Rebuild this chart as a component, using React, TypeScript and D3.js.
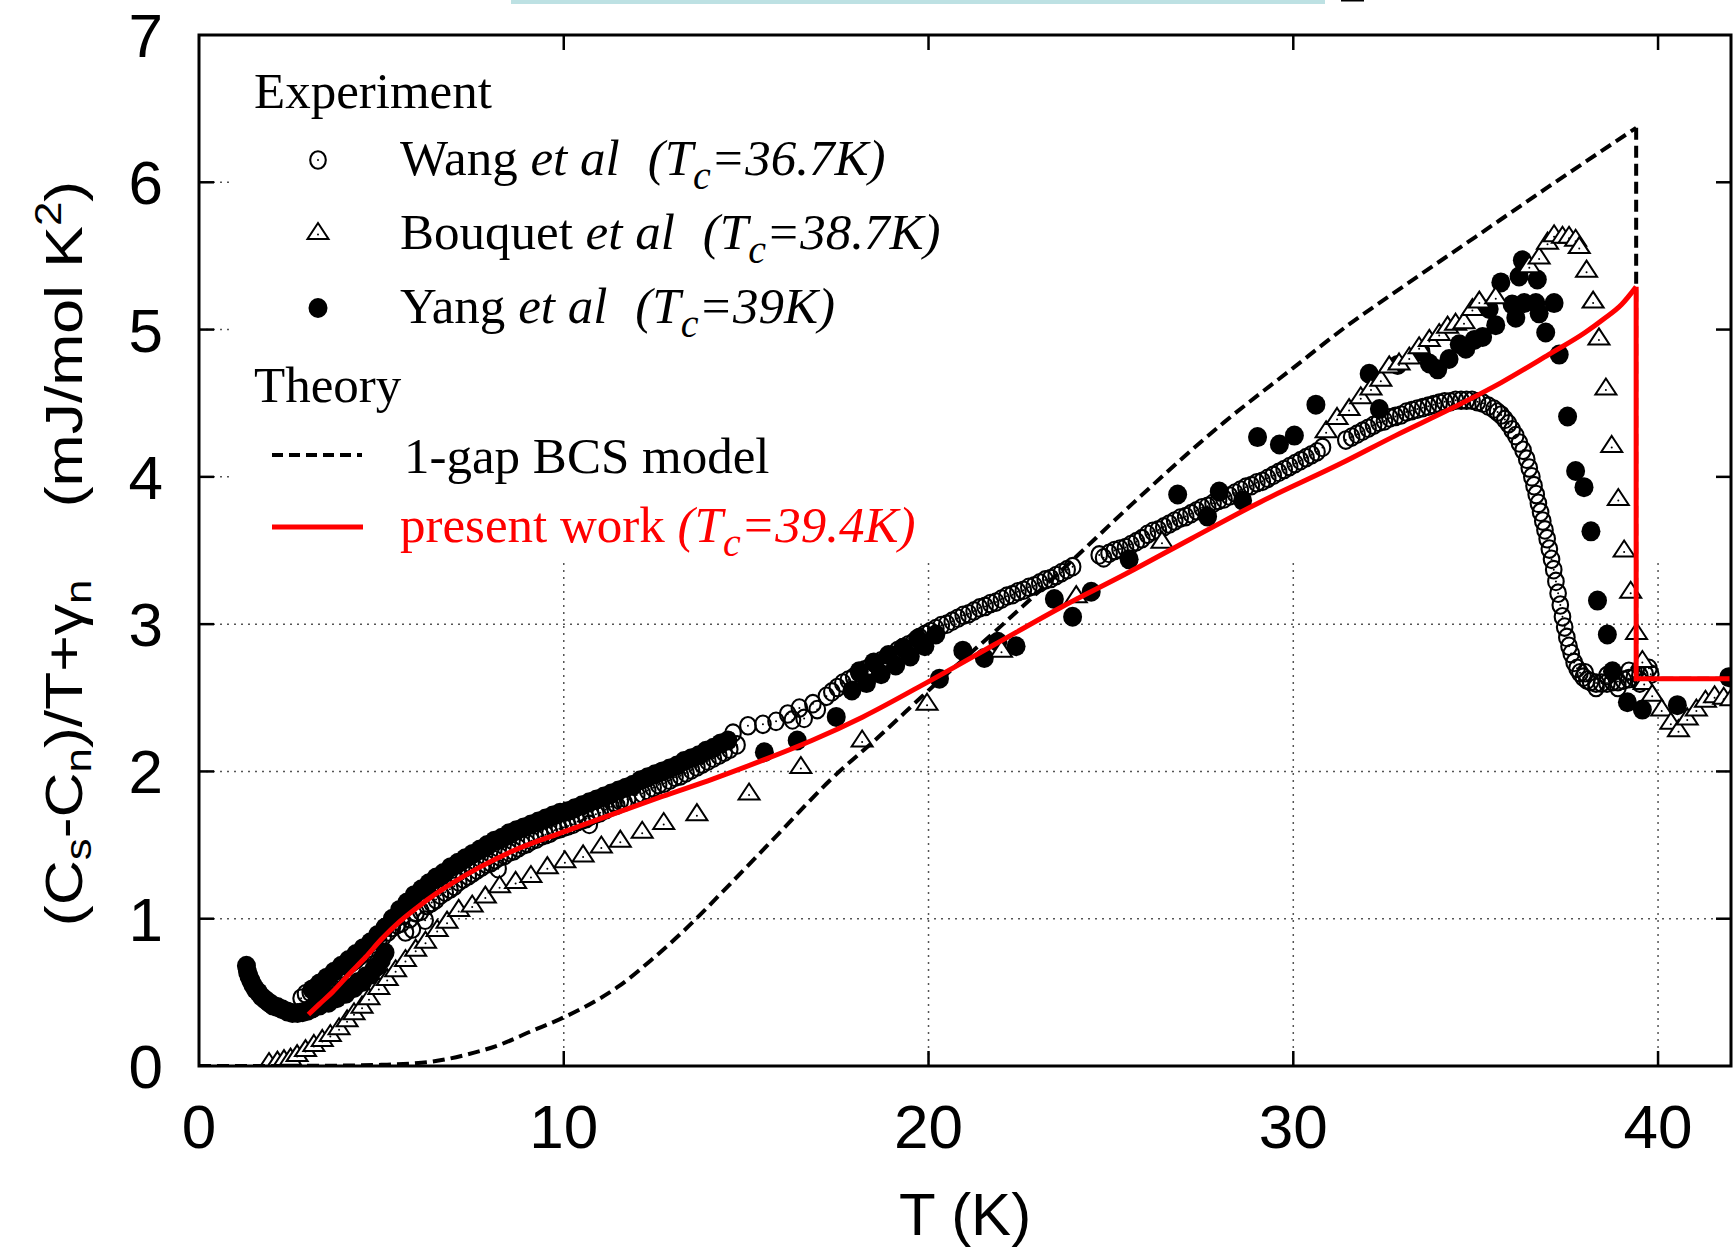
import React from "react";
import * as d3 from "d3";

const W = 1734;
const H = 1251;
const left = 199;
const right = 1731;
const top = 35;
const bottom = 1066;
// gnuplot leaves the grid out where the key sits
const keyLeft = 233;
const keyBottom = 563;

const xTicks = [0, 10, 20, 30, 40];
const yTicks = [0, 1, 2, 3, 4, 5, 6, 7];

// Wang et al (open circles)
const wang = [
  [2.8, 0.46], [2.92, 0.49], [3.05, 0.5], [3.18, 0.53], [3.3, 0.55], [3.42, 0.57], [3.55, 0.59], [3.68, 0.61],
  [3.8, 0.63], [3.93, 0.66], [4.05, 0.68], [4.18, 0.7], [4.3, 0.72], [4.43, 0.75], [4.55, 0.77], [4.68, 0.8],
  [4.8, 0.83], [4.93, 0.85], [5.05, 0.88], [5.18, 0.91], [5.3, 0.94], [5.43, 0.96], [5.55, 0.97], [5.66, 0.91],
  [5.78, 1.0], [5.85, 0.93], [5.95, 1.04], [6.08, 1.05], [6.2, 0.99], [6.25, 1.09], [6.38, 1.11], [6.5, 1.13],
  [6.62, 1.16], [6.75, 1.18], [6.88, 1.2], [7.0, 1.22], [7.12, 1.25], [7.25, 1.27], [7.38, 1.29], [7.5, 1.31],
  [7.62, 1.33], [7.75, 1.35], [7.88, 1.37], [8.0, 1.38], [8.12, 1.4], [8.2, 1.34], [8.25, 1.42], [8.38, 1.43],
  [8.5, 1.45], [8.62, 1.46], [8.75, 1.48], [8.88, 1.5], [9.0, 1.51], [9.12, 1.53], [9.25, 1.54], [9.38, 1.56],
  [9.5, 1.57], [9.62, 1.58], [9.75, 1.6], [9.88, 1.61], [10.0, 1.62], [10.12, 1.63], [10.25, 1.64], [10.38, 1.66],
  [10.5, 1.67], [10.62, 1.68], [10.7, 1.64], [10.75, 1.7], [10.88, 1.71], [11.0, 1.72], [11.15, 1.74], [11.3, 1.76],
  [11.38, 1.79], [11.45, 1.77], [11.55, 1.8], [11.65, 1.79], [11.75, 1.81], [11.9, 1.9], [12.0, 1.84], [12.15, 1.85],
  [12.3, 1.87], [12.45, 1.89], [12.6, 1.91], [12.75, 1.92], [12.9, 1.94], [13.05, 1.96], [13.2, 1.97], [13.35, 1.99],
  [13.5, 2.01], [13.65, 2.03], [13.8, 2.05], [13.95, 2.07], [14.1, 2.09], [14.25, 2.11], [14.4, 2.13], [14.55, 2.15],
  [14.64, 2.26], [14.75, 2.18],
  [15.05, 2.31], [15.46, 2.32], [15.82, 2.34], [16.14, 2.39], [16.27, 2.35], [16.46, 2.43], [16.59, 2.36],
  [16.83, 2.46], [16.95, 2.42], [17.2, 2.51],
  [17.35, 2.54], [17.5, 2.57], [17.65, 2.6], [17.8, 2.62], [17.95, 2.64], [18.1, 2.67], [18.25, 2.69], [18.4, 2.71],
  [18.55, 2.73], [18.7, 2.75], [18.85, 2.77], [19.0, 2.79], [19.15, 2.82], [19.3, 2.84], [19.45, 2.86], [19.6, 2.88],
  [19.75, 2.91], [19.9, 2.93], [20.05, 2.95], [20.2, 2.97], [20.35, 2.99], [20.5, 3.0], [20.65, 3.02], [20.8, 3.04],
  [20.95, 3.06], [21.1, 3.07], [21.25, 3.09], [21.4, 3.11], [21.55, 3.12], [21.7, 3.14], [21.85, 3.15], [22.0, 3.17],
  [22.15, 3.19], [22.3, 3.2], [22.45, 3.22], [22.6, 3.23], [22.75, 3.25], [22.9, 3.26], [23.05, 3.28], [23.2, 3.3],
  [23.35, 3.31], [23.5, 3.33], [23.65, 3.35], [23.8, 3.37], [23.95, 3.39],
  [24.68, 3.47], [24.8, 3.45], [24.95, 3.48], [25.1, 3.5], [25.25, 3.51], [25.4, 3.52], [25.55, 3.54], [25.7, 3.56],
  [25.85, 3.58], [26.0, 3.61], [26.15, 3.63], [26.3, 3.64], [26.45, 3.66], [26.6, 3.68], [26.75, 3.7], [26.9, 3.72],
  [27.05, 3.73], [27.2, 3.75], [27.35, 3.77], [27.5, 3.79], [27.65, 3.8], [27.8, 3.82], [27.95, 3.84], [28.1, 3.85],
  [28.25, 3.87], [28.4, 3.89], [28.55, 3.91], [28.7, 3.93], [28.85, 3.94], [29.0, 3.96], [29.15, 3.97], [29.3, 3.99],
  [29.45, 4.01], [29.6, 4.03], [29.75, 4.05], [29.9, 4.07], [30.05, 4.09], [30.2, 4.11], [30.35, 4.13], [30.5, 4.15],
  [30.65, 4.17], [30.8, 4.2],
  [31.44, 4.25], [31.6, 4.27], [31.75, 4.29], [31.9, 4.31], [32.05, 4.33], [32.2, 4.35], [32.35, 4.37], [32.5, 4.38],
  [32.65, 4.4], [32.8, 4.41], [32.95, 4.42], [33.1, 4.44], [33.25, 4.45], [33.4, 4.46], [33.55, 4.47], [33.7, 4.48],
  [33.85, 4.49], [34.0, 4.5], [34.15, 4.51], [34.3, 4.51], [34.45, 4.52], [34.6, 4.52], [34.75, 4.52], [34.9, 4.52],
  [35.05, 4.51], [35.2, 4.5], [35.35, 4.48], [35.5, 4.46], [35.6, 4.44], [35.7, 4.42], [35.8, 4.39], [35.9, 4.36],
  [36.0, 4.32], [36.1, 4.28], [36.2, 4.23], [36.3, 4.18], [36.4, 4.12], [36.47, 4.06], [36.54, 4.0], [36.6, 3.94],
  [36.66, 3.88], [36.72, 3.82], [36.78, 3.76], [36.84, 3.7], [36.9, 3.64], [36.96, 3.58], [37.02, 3.51], [37.08, 3.44],
  [37.14, 3.37], [37.2, 3.29], [37.26, 3.21], [37.32, 3.13], [37.38, 3.05], [37.44, 2.98], [37.5, 2.91], [37.56, 2.85],
  [37.62, 2.8], [37.7, 2.74], [37.78, 2.7], [37.86, 2.67], [37.95, 2.64], [38.05, 2.62], [38.15, 2.61], [38.3, 2.6],
  [38.45, 2.6], [38.6, 2.6], [38.75, 2.61], [38.9, 2.61], [39.05, 2.62], [39.2, 2.63], [39.35, 2.64], [39.5, 2.65],
  [39.65, 2.66], [39.8, 2.66],
  [38.0, 2.67], [38.3, 2.57], [38.6, 2.65], [38.9, 2.57], [39.2, 2.68], [39.5, 2.6], [39.75, 2.7],
];

// Bouquet et al (open triangles)
const bouquet = [
  [1.92, 0.02], [2.15, 0.03], [2.33, 0.04], [2.51, 0.05], [2.69, 0.074], [2.92, 0.108], [3.15, 0.143], [3.38, 0.177],
  [3.6, 0.21], [3.84, 0.256], [4.06, 0.31], [4.25, 0.358], [4.47, 0.403], [4.66, 0.46], [4.93, 0.53], [5.16, 0.59],
  [5.39, 0.65], [5.66, 0.72], [5.94, 0.79], [6.21, 0.844], [6.53, 0.923], [6.8, 0.98], [7.12, 1.06], [7.49, 1.09],
  [7.85, 1.15], [8.24, 1.22], [8.68, 1.25], [9.1, 1.29], [9.55, 1.35], [10.03, 1.39], [10.53, 1.43], [11.03, 1.49],
  [11.55, 1.53], [12.15, 1.59], [12.74, 1.65], [13.65, 1.71], [15.08, 1.85], [16.5, 2.03], [18.18, 2.21], [19.96, 2.46],
  [22.0, 2.82], [24.05, 3.19], [26.4, 3.56],
  [30.9, 4.31], [31.2, 4.4], [31.53, 4.46], [31.85, 4.54], [32.13, 4.6], [32.4, 4.66], [32.63, 4.75], [32.9, 4.77],
  [33.18, 4.81], [33.45, 4.88], [33.73, 4.93], [34.0, 4.97], [34.23, 5.02], [34.45, 5.04], [34.68, 5.05], [34.91, 5.14],
  [35.1, 5.19], [35.55, 5.22], [36.47, 5.43], [36.74, 5.49], [36.97, 5.59], [37.15, 5.64], [37.38, 5.63], [37.56, 5.63],
  [37.74, 5.61], [37.84, 5.56], [38.04, 5.4], [38.22, 5.19], [38.38, 4.94], [38.57, 4.6], [38.73, 4.21], [38.91, 3.85],
  [39.07, 3.5], [39.25, 3.22], [39.41, 2.94], [39.57, 2.75], [39.62, 2.6], [39.84, 2.52], [40.1, 2.42], [40.35, 2.33],
  [40.56, 2.28], [40.8, 2.36], [41.05, 2.42], [41.3, 2.48], [41.55, 2.51], [41.8, 2.5], [42.0, 2.49],
];

// Yang et al (filled circles): low-T upturn and the dense run below 5 K
const yangLow = [
  [1.3, 0.68], [1.33, 0.64], [1.37, 0.61], [1.42, 0.58], [1.48, 0.55], [1.55, 0.52], [1.63, 0.5], [1.72, 0.47],
  [1.82, 0.45], [1.92, 0.43], [2.03, 0.41], [2.15, 0.4], [2.28, 0.385], [2.42, 0.37], [2.56, 0.36], [2.7, 0.36],
  [2.84, 0.365], [2.98, 0.375], [3.1, 0.39], [3.2, 0.42], [3.3, 0.41], [3.42, 0.44], [3.55, 0.43], [3.65, 0.47],
  [3.78, 0.46], [3.9, 0.5], [4.02, 0.49], [4.12, 0.53], [4.25, 0.53], [4.36, 0.57], [4.48, 0.57], [4.58, 0.61],
  [4.7, 0.62], [4.8, 0.66], [4.9, 0.68], [5.0, 0.72], [5.1, 0.77],
];

// Yang et al, the part that runs inside the dense band
const yangBand = [
  [3.1, 0.52], [3.3, 0.56], [3.5, 0.6], [3.7, 0.64], [3.9, 0.68], [4.1, 0.72], [4.3, 0.76], [4.5, 0.8], [4.7, 0.84],
  [4.9, 0.89], [5.1, 0.94], [5.3, 1.0], [5.5, 1.06], [5.7, 1.11], [5.9, 1.16], [6.1, 1.2], [6.3, 1.24], [6.5, 1.28],
  [6.7, 1.31], [6.9, 1.35], [7.1, 1.38], [7.3, 1.41], [7.5, 1.44], [7.7, 1.47], [7.9, 1.5], [8.1, 1.53], [8.3, 1.55],
  [8.5, 1.58], [8.7, 1.6], [8.9, 1.62], [9.1, 1.64], [9.3, 1.66], [9.5, 1.68], [9.7, 1.7], [9.9, 1.72], [10.1, 1.73],
  [10.3, 1.75], [10.5, 1.77], [10.7, 1.79], [10.9, 1.81], [11.1, 1.83], [11.3, 1.85], [11.5, 1.87], [11.7, 1.89],
  [11.9, 1.91], [12.1, 1.94], [12.3, 1.96], [12.5, 1.98], [12.7, 2.0], [12.9, 2.02], [13.1, 2.04], [13.3, 2.07],
  [13.5, 2.09], [13.7, 2.11], [13.9, 2.14], [14.1, 2.16], [14.3, 2.19], [14.5, 2.21],
  [17.9, 2.55], [18.1, 2.68], [18.3, 2.6], [18.5, 2.74], [18.7, 2.66], [18.9, 2.79], [19.1, 2.72], [19.3, 2.84],
  [19.5, 2.78], [19.7, 2.9], [19.9, 2.85], [20.2, 2.93],
];

// Yang et al, scattered points above 15 K
const yangSparse = [
  [15.5, 2.13], [16.4, 2.21], [17.47, 2.37], [20.3, 2.63], [20.94, 2.82], [21.53, 2.77], [21.9, 2.88], [22.4, 2.85],
  [23.45, 3.17], [23.95, 3.05], [24.46, 3.22], [25.5, 3.44], [26.83, 3.88], [27.65, 3.73], [27.97, 3.9], [28.61, 3.84],
  [29.02, 4.27], [29.62, 4.22], [30.03, 4.28], [30.62, 4.49], [32.08, 4.7], [32.36, 4.46], [32.86, 4.76], [33.5, 4.85],
  [33.73, 4.77], [33.96, 4.73], [34.27, 4.8], [34.55, 4.9], [34.73, 4.87], [34.96, 4.93], [35.19, 4.95], [35.37, 5.14],
  [35.55, 5.03], [35.69, 5.32], [36.0, 5.17], [36.1, 5.08], [36.19, 5.36], [36.28, 5.47], [36.33, 5.18], [36.65, 5.18],
  [36.69, 5.34], [36.74, 5.11], [36.92, 4.98], [37.15, 5.18], [37.29, 4.83], [37.52, 4.41], [37.74, 4.04], [37.97, 3.93],
  [38.16, 3.63], [38.34, 3.16], [38.61, 2.93], [38.75, 2.68], [39.16, 2.47], [39.57, 2.42], [40.53, 2.45], [41.94, 2.64],
];

// 1-gap BCS model (dashed)
const bcs = [
  [0, 0], [2, 0], [3, 0.001], [4, 0.003], [5, 0.008], [5.8, 0.016], [6.4, 0.03], [7.3, 0.075], [8.2, 0.14],
  [9.1, 0.235], [10.0, 0.33], [11.0, 0.46], [11.5, 0.54], [12.4, 0.72], [13.3, 0.92], [14.5, 1.22], [15.9, 1.58],
  [17.3, 1.94], [18.7, 2.25], [20.0, 2.55], [22.0, 2.99], [23.8, 3.4], [25.6, 3.82], [28.1, 4.37], [30.0, 4.74],
  [31.5, 5.03], [33.0, 5.29], [35.0, 5.63], [37.0, 5.97], [39.4, 6.37],
];
const bcsJump = [[39.4, 6.37], [39.4, 2.63], [42, 2.63]];

// present work (red)
const theory = [
  [3.0, 0.35], [3.3, 0.42], [3.65, 0.5], [4.1, 0.62], [4.57, 0.74], [5.0, 0.86], [5.5, 0.98], [6.0, 1.08],
  [6.5, 1.17], [7.0, 1.25], [7.7, 1.35], [8.6, 1.46], [10.0, 1.59], [11.35, 1.71], [12.7, 1.83], [14.1, 1.95],
  [15.5, 2.08], [16.8, 2.21], [18.2, 2.37], [20.0, 2.61], [21.8, 2.86], [23.6, 3.11], [25.4, 3.34], [27.2, 3.58],
  [29.1, 3.83], [31.3, 4.09], [32.8, 4.28], [34.3, 4.46], [35.7, 4.64], [37.0, 4.83], [38.0, 4.98], [38.5, 5.07],
  [39.0, 5.17], [39.4, 5.29],
];
const theoryJump = [[39.4, 5.29], [39.4, 2.63], [42, 2.63]];

const sans = "'Liberation Sans', Arial, Helvetica, sans-serif";
const serif = "'Liberation Serif', 'Times New Roman', Times, serif";

function OpenCircle({ cx, cy }: { cx: number; cy: number }) {
  return (
    <g>
      <ellipse cx={cx} cy={cy} rx={7.8} ry={8.8} fill="none" stroke="#000" strokeWidth={2.1} />
      <circle cx={cx} cy={cy} r={1} fill="#000" />
    </g>
  );
}

function Dot({ cx, cy }: { cx: number; cy: number }) {
  return <ellipse cx={cx} cy={cy} rx={9.5} ry={10} fill="#000" />;
}

function Triangle({ cx, cy }: { cx: number; cy: number }) {
  return (
    <g>
      <path
        d={`M${cx},${cy - 10}L${cx + 10.5},${cy + 6}L${cx - 10.5},${cy + 6}Z`}
        fill="#fff"
        stroke="#000"
        strokeWidth={2}
      />
      <circle cx={cx} cy={cy + 1.5} r={1} fill="#000" />
    </g>
  );
}

export default function App() {
  const x = d3.scaleLinear().domain([0, 42]).range([left, right]);
  const y = d3.scaleLinear().domain([0, 7]).range([bottom, top]);

  const smooth = d3
    .line<number[]>()
    .x((d) => x(d[0]))
    .y((d) => y(d[1]))
    .curve(d3.curveMonotoneX);
  const straight = d3
    .line<number[]>()
    .x((d) => x(d[0]))
    .y((d) => y(d[1]));

  const gridH = yTicks.filter((v) => v > 0 && v < 7);
  const gridV = xTicks.filter((v) => v > 0);

  const sub = { fontSize: 40 };

  return (
    <div style={{ position: "absolute", left: 0, top: 0 }}>
      <svg width={W} height={H} viewBox={`0 0 ${W} ${H}`} style={{ display: "block", background: "#fff" }}>
        <defs>
          <clipPath id="plot">
            <rect x={left} y={top} width={right - left} height={bottom - top} />
          </clipPath>
        </defs>

        {/* bits of the page above the figure */}
        <rect x={511} y={0} width={814} height={4} fill="#bde1e3" />
        <rect x={1341} y={0} width={23} height={1.5} fill="#000" />

        {/* grid */}
        <g stroke="#555" strokeWidth={1.5} strokeDasharray="2,5">
          {gridH.map((v) => (
            <line key={"h" + v} x1={left} x2={y(v) < keyBottom ? keyLeft : right} y1={y(v)} y2={y(v)} />
          ))}
          {gridV.map((t) => (
            <line key={"v" + t} x1={x(t)} x2={x(t)} y1={keyBottom} y2={bottom} />
          ))}
        </g>

        <g clipPath="url(#plot)">
          {wang.map((d, i) => (
            <OpenCircle key={"w" + i} cx={x(d[0])} cy={y(d[1])} />
          ))}
          {yangLow.concat(yangBand, yangSparse).map((d, i) => (
            <Dot key={"y" + i} cx={x(d[0])} cy={y(d[1])} />
          ))}
          {bouquet.map((d, i) => (
            <Triangle key={"b" + i} cx={x(d[0])} cy={y(d[1])} />
          ))}

          <path d={smooth(bcs) || ""} fill="none" stroke="#000" strokeWidth={4} strokeDasharray="12,6" />
          <path d={straight(bcsJump) || ""} fill="none" stroke="#000" strokeWidth={4} strokeDasharray="12,6" />
          <path d={smooth(theory) || ""} fill="none" stroke="#ff0000" strokeWidth={5} />
          <path d={straight(theoryJump) || ""} fill="none" stroke="#ff0000" strokeWidth={5} />
        </g>

        {/* frame and ticks */}
        <rect x={left} y={top} width={right - left} height={bottom - top} fill="none" stroke="#000" strokeWidth={3} />
        <g stroke="#000" strokeWidth={2.5}>
          {gridH.map((v) => (
            <g key={"ty" + v}>
              <line x1={left} x2={left + 15} y1={y(v)} y2={y(v)} />
              <line x1={right - 15} x2={right} y1={y(v)} y2={y(v)} />
            </g>
          ))}
          {gridV.map((t) => (
            <g key={"tx" + t}>
              <line x1={x(t)} x2={x(t)} y1={bottom} y2={bottom - 15} />
              <line x1={x(t)} x2={x(t)} y1={top} y2={top + 15} />
            </g>
          ))}
        </g>

        {/* tick labels */}
        <g fontFamily={sans} fontSize={62} fill="#000">
          {yTicks.map((v) => (
            <text key={"ly" + v} x={163} y={y(v) + 22} textAnchor="end">
              {v}
            </text>
          ))}
          {xTicks.map((t) => (
            <text key={"lx" + t} x={x(t)} y={1148} textAnchor="middle">
              {t}
            </text>
          ))}
        </g>

        {/* axis titles */}
        <text x={(left + right) / 2} y={1235} textAnchor="middle" fontFamily={sans} fontSize={60}>
          T (K)
        </text>
        <text
          transform={`translate(82,${(top + bottom) / 2 + 3}) rotate(-90) scale(1.25,1.05)`}
          textAnchor="middle"
          fontFamily={sans}
          fontSize={50}
        >
          (C<tspan fontSize={35} dy={9}>s</tspan>
          <tspan dy={-9}>-C</tspan>
          <tspan fontSize={35} dy={9}>n</tspan>
          <tspan dy={-9}>)/T+γ</tspan>
          <tspan fontSize={35} dy={9}>n</tspan>
          <tspan dy={-9} dx={58}>(mJ/mol K</tspan>
          <tspan fontSize={35} dy={-20}>2</tspan>
          <tspan dy={20}>)</tspan>
        </text>

        {/* key */}
        <g fontFamily={serif} fontSize={51} fill="#000">
          <text x={254} y={108}>Experiment</text>

          <OpenCircle cx={318} cy={160} />
          <text x={400} y={175}>
            Wang <tspan fontStyle="italic">et al</tspan>
            <tspan fontStyle="italic" dx={28}>(T</tspan>
            <tspan fontStyle="italic" dy={14} {...sub}>c</tspan>
            <tspan fontStyle="italic" dy={-14}>=36.7K)</tspan>
          </text>

          <Triangle cx={318} cy={233} />
          <text x={400} y={249}>
            Bouquet <tspan fontStyle="italic">et al</tspan>
            <tspan fontStyle="italic" dx={28}>(T</tspan>
            <tspan fontStyle="italic" dy={14} {...sub}>c</tspan>
            <tspan fontStyle="italic" dy={-14}>=38.7K)</tspan>
          </text>

          <Dot cx={318} cy={308} />
          <text x={400} y={323}>
            Yang <tspan fontStyle="italic">et al</tspan>
            <tspan fontStyle="italic" dx={28}>(T</tspan>
            <tspan fontStyle="italic" dy={14} {...sub}>c</tspan>
            <tspan fontStyle="italic" dy={-14}>=39K)</tspan>
          </text>

          <text x={254} y={402}>Theory</text>

          <line x1={272} x2={362} y1={455} y2={455} stroke="#000" strokeWidth={4} strokeDasharray="11,6" />
          <text x={404} y={473}>1-gap BCS model</text>

          <line x1={272} x2={363} y1={527} y2={527} stroke="#ff0000" strokeWidth={5} />
          <text x={400} y={542} fill="#ff0000">
            present work <tspan fontStyle="italic">(T</tspan>
            <tspan fontStyle="italic" dy={14} {...sub}>c</tspan>
            <tspan fontStyle="italic" dy={-14}>=39.4K)</tspan>
          </text>
        </g>
      </svg>
    </div>
  );
}
